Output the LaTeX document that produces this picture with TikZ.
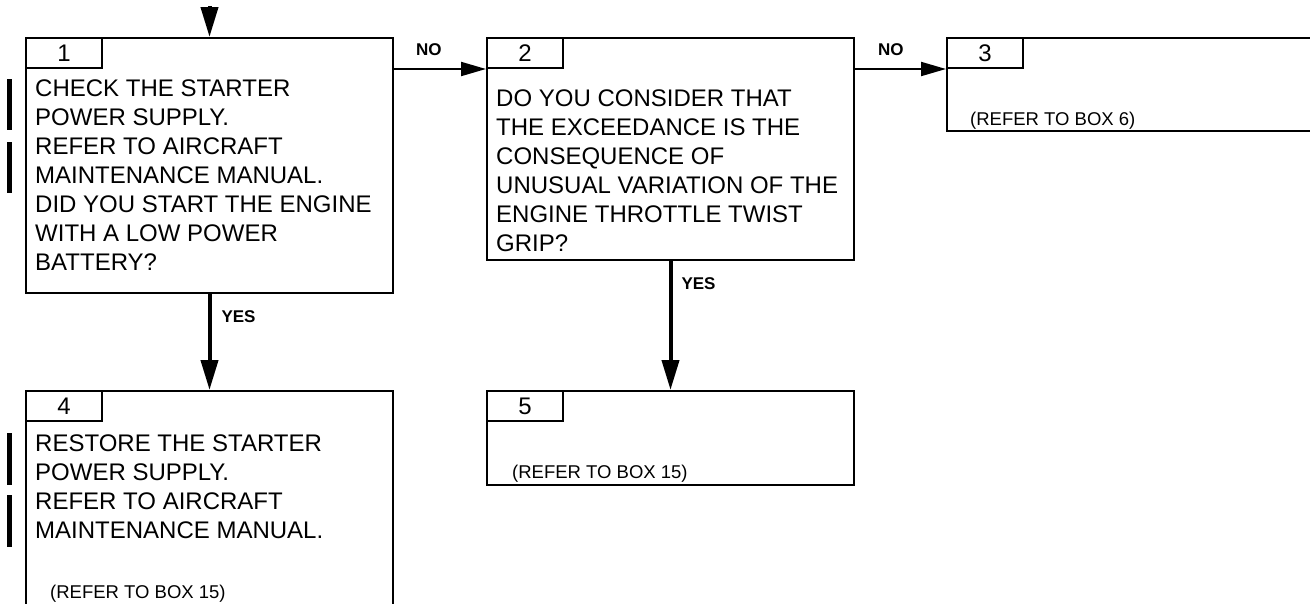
\documentclass[tikz,border=0pt]{standalone}
\usepackage{fontspec}
\setmainfont{Liberation Sans}
\usetikzlibrary{arrows.meta}
\tikzset{
  box/.style={draw, line width=2pt, anchor=north west, inner sep=0pt},
  tab/.style={draw, line width=2pt, anchor=north west, minimum width=76pt, minimum height=30pt, inner sep=0pt, font=\fontsize{24}{28}\selectfont},
  body/.style={anchor=north west, align=left, inner sep=0pt, font=\fontsize{24}{29}\selectfont},
  refnote/.style={anchor=base west, inner sep=0pt, font=\fontsize{18.5}{22}\selectfont},
  answer/.style={anchor=base west, inner sep=0pt, font=\bfseries\fontsize{17}{20}\selectfont},
  noflow/.style={line width=2pt, -{Triangle[length=25pt,width=14pt]}},
  yesflow/.style={line width=4pt, -{Triangle[length=30pt,width=17pt]}},
  changebar/.style={line width=5pt}
}
\begin{document}
\begin{tikzpicture}[x=1pt, y=-1pt]
  \useasboundingbox (0,0) rectangle (1310,603);

  % boxes
  \node[box, minimum width=367pt, minimum height=255pt] (b1) at (25,37) {};
  \node[box, minimum width=367pt, minimum height=222pt] (b2) at (486,37) {};
  \node[box, minimum width=372pt, minimum height=93pt] (b3) at (946,37) {};
  \node[box, minimum width=367pt, minimum height=218pt] (b4) at (25,390) {};
  \node[box, minimum width=367pt, minimum height=94pt] (b5) at (486,390) {};

  % number tabs
  \node[tab] (t1) at (b1.north west) {1};
  \node[tab] (t2) at (b2.north west) {2};
  \node[tab] (t3) at (b3.north west) {3};
  \node[tab] (t4) at (b4.north west) {4};
  \node[tab] (t5) at (b5.north west) {5};

  % box texts
  \node[body] (q1) at (35,80) {CHECK THE STARTER\\POWER SUPPLY.\\REFER TO AIRCRAFT\\MAINTENANCE MANUAL.\\DID YOU START THE ENGINE\\WITH A LOW POWER\\BATTERY?};
  \node[body] (q2) at (496,90) {DO YOU CONSIDER THAT\\THE EXCEEDANCE IS THE\\CONSEQUENCE OF\\UNUSUAL VARIATION OF THE\\ENGINE THROTTLE TWIST\\GRIP?};
  \node[body] (a4) at (35,435) {RESTORE THE STARTER\\POWER SUPPLY.\\REFER TO AIRCRAFT\\MAINTENANCE MANUAL.};
  \node[refnote] (r3) at (970,125) {(REFER TO BOX 6)};
  \node[refnote] (r4) at (50,598) {(REFER TO BOX 15)};
  \node[refnote] (r5) at (512,478) {(REFER TO BOX 15)};

  % change bars
  \foreach \ya/\yb in {79/130, 142/193, 433/485, 495/547}
    \draw[changebar] (9,\ya) -- (9,\yb);

  % flow
  \coordinate (entry) at (b1.north |- 0,6);
  \draw[yesflow] (entry) -- (b1.north);
  \draw[noflow] (b1.east |- t2.south west) -- node[answer, pos=0, xshift=21pt, yshift=14pt] {NO} (t2.south west);
  \draw[noflow] (b2.east |- t3.south west) -- node[answer, pos=0, xshift=22pt, yshift=14pt] {NO} (t3.south west);
  \draw[yesflow] (b1.south) -- node[answer, pos=0, xshift=10pt, yshift=-28pt] {YES} (b4.north);
  \draw[yesflow] (b2.south) -- node[answer, pos=0, xshift=9pt, yshift=-28pt] {YES} (b5.north);
\end{tikzpicture}
\end{document}
